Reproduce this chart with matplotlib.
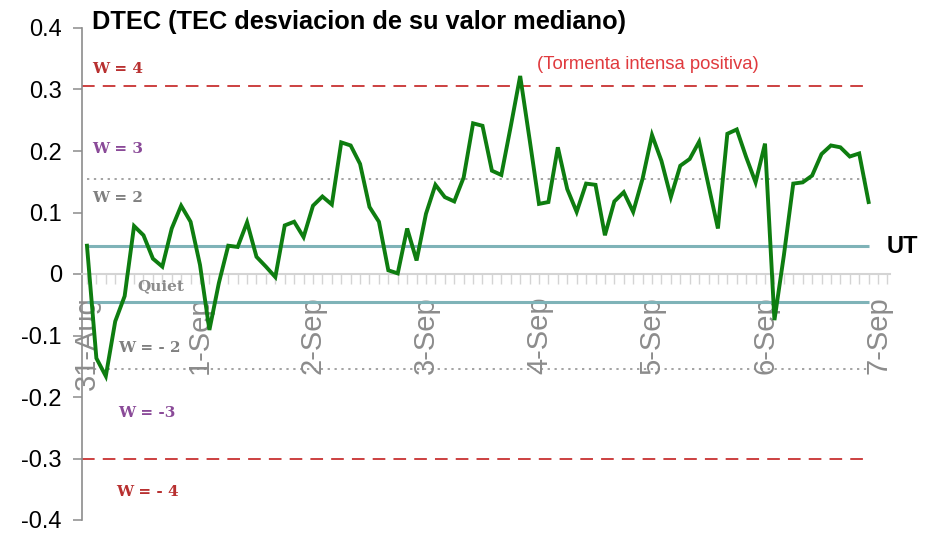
import numpy as np
import matplotlib
matplotlib.use("Agg")
import matplotlib.pyplot as plt
from matplotlib.ticker import MultipleLocator, FixedLocator

# ---- data (2-hourly DTEC values, 31-Aug 00UT .. 6-Sep 22UT) ----
dtec = [
    0.046, -0.137, -0.166, -0.077, -0.036, 0.078, 0.063, 0.025, 0.012, 0.074, 0.111, 0.085,
    0.015, -0.091, -0.015, 0.046, 0.044, 0.084, 0.028, 0.012, -0.005, 0.079, 0.085, 0.060,
    0.111, 0.126, 0.113, 0.214, 0.209, 0.179, 0.109, 0.085, 0.006, 0.001, 0.074, 0.022,
    0.098, 0.145, 0.125, 0.118, 0.157, 0.245, 0.241, 0.168, 0.161, 0.240, 0.322, 0.219,
    0.114, 0.117, 0.206, 0.138, 0.101, 0.147, 0.145, 0.063, 0.118, 0.133, 0.101, 0.155,
    0.226, 0.184, 0.125, 0.176, 0.187, 0.215, 0.144, 0.074, 0.228, 0.235, 0.190, 0.149,
    0.212, -0.075, 0.030, 0.147, 0.149, 0.160, 0.195, 0.209, 0.206, 0.191, 0.196, 0.117,
]
step_hours = 2
day_labels = ["31-Aug", "1-Sep", "2-Sep", "3-Sep", "4-Sep", "5-Sep", "6-Sep", "7-Sep"]
yticks = [0.4, 0.3, 0.2, 0.1, 0, -0.1, -0.2, -0.3, -0.4]
ytick_labels = ["0.4", "0.3", "0.2", "0.1", "0", "-0.1", "-0.2", "-0.3", "-0.4"]

# threshold levels
w4_pos, w4_neg = 0.305, -0.300
w2_pos, w2_neg = 0.155, -0.155
ut_pos, ut_neg = 0.045, -0.045

# label texts
w_labels = ["W = 4", "W = 3", "W = 2", "Quiet", "W = - 2", "W = -3", "W = - 4"]
w_label_y = [0.333, 0.203, 0.124, -0.019, -0.121, -0.226, -0.355]
w_label_x = [0.044, 0.044, 0.044, 0.45, 0.274, 0.274, 0.257]
w_label_colors = ["#b83030", "#8a4a98", "#808080", "#8c8c8c", "#808080", "#8a4a98", "#b83030"]

title = "DTEC (TEC desviacion de su valor mediano)"
storm_note = "(Tormenta intensa positiva)"

# ---- figure ----
W, H = 931, 533
fig = plt.figure(figsize=(W / 100, H / 100), dpi=100)
ax = fig.add_axes([82 / W, 13 / H, 808 / W, 492 / H])

x = np.arange(len(dtec)) * step_hours / 24.0
xmin, xmax = -0.044, 7.106
ax.set_xlim(xmin, xmax)
ax.set_ylim(-0.4, 0.4)

# reference lines
ax.hlines([w4_pos, w4_neg], xmin, x[-1], colors="#c83232", linestyles=(0, (7, 4.5)), lw=1.3, zorder=2)
ax.hlines([w2_pos, w2_neg], 0, x[-1], colors="#8a8a8a", linestyles=(0, (1.5, 3)), lw=1.1, zorder=2)
ax.hlines([ut_pos, ut_neg], 0, x[-1], colors="#7fb3b8", linestyles="-", lw=2.2, zorder=2)

# data line
ax.plot(x, dtec, color="#0e7d10", lw=2.8, zorder=4, solid_joinstyle="miter")

# spines / axes
for s in ["top", "right"]:
    ax.spines[s].set_visible(False)
ax.spines["left"].set_color("#8c8c8c")
ax.spines["left"].set_linewidth(1.2)
ax.spines["bottom"].set_position(("data", 0))
ax.spines["bottom"].set_color("#d4d4d4")
ax.spines["bottom"].set_linewidth(1.5)

ax.set_yticks(yticks)
ax.set_yticklabels(ytick_labels, fontsize=17, family="Liberation Sans", color="black")
ax.tick_params(axis="y", direction="out", length=6.5, width=1.1, color="#8c8c8c", pad=8)

ax.xaxis.set_major_locator(FixedLocator(np.arange(len(day_labels))))
ax.set_xticklabels(day_labels, rotation=90, fontsize=21, family="Liberation Sans",
                   color="#8c8c8c", va="top", ha="center")
ax.xaxis.set_minor_locator(MultipleLocator(step_hours / 24.0))
ax.tick_params(axis="x", which="both", direction="out", length=7, width=1.0,
               color="#d4d4d4", pad=9)
for lbl in ax.get_xticklabels():
    lbl.set_zorder(5)

# annotations
for txt, xx, yy, c in zip(w_labels, w_label_x, w_label_y, w_label_colors):
    ax.text(xx, yy, txt, color=c, fontsize=11, fontweight="bold",
            family="DejaVu Serif", ha="left", va="center", zorder=6)

ax.text(3.98, 0.341, storm_note, color="#e03a3e", fontsize=13.3,
        family="Liberation Sans", ha="left", va="center")
ax.text(7.08, ut_pos, "UT", color="black", fontsize=17, fontweight="bold",
        family="Liberation Sans", ha="left", va="center")

fig.text(92 / W, 1 - 22 / H, title, fontsize=18.3, fontweight="bold",
         family="Liberation Sans", ha="left", va="center")

fig.savefig("out.png", dpi=100)
